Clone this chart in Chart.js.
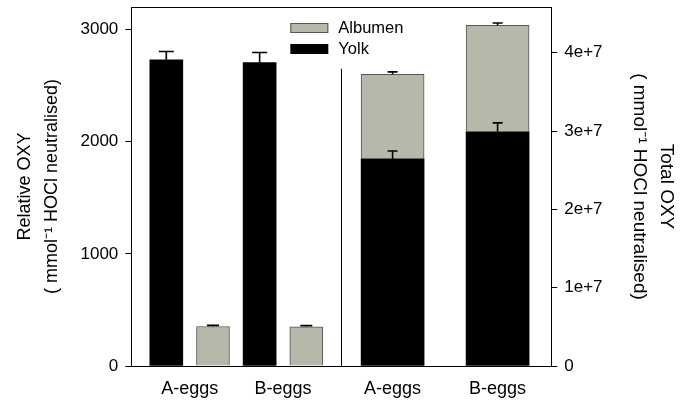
<!DOCTYPE html>
<html>
<head>
<meta charset="utf-8">
<script src="https://cdn.jsdelivr.net/npm/chart.js@4.4.0/dist/chart.umd.min.js"></script>
<style>
  html, body { margin: 0; padding: 0; background: #fff; }
  #wrap { width: 687px; height: 405px; }
</style>
</head>
<body>
<div id="wrap"><canvas id="oxyChart" width="687" height="405"></canvas></div>
<script>
const categories = ['A-eggs', 'B-eggs'];

// Relative OXY (left axis), side by side
const yolkRel = [2730, 2705];
const yolkRelErr = [74, 90];
const albumenRel = [352, 350];
const albumenRelErr = [10, 10];

// Total OXY (right axis), stacked
const yolkTotal = [2.645e7, 2.99e7];
const yolkTotalErr = [1.0e6, 1.15e6];
const albumenTotal = [1.08e7, 1.36e7];
const albumenTotalErr = [3e5, 3e5];

const leftTicks = [0, 1000, 2000, 3000];
const rightTicks = [0, 1e7, 2e7, 3e7, 4e7];

// where the groups sit on the x axis
const relPos = [1.25, 3.25];
const totPos = [5.6, 7.85];
const pairOffset = 0.5;
const dividerPos = 4.5;

const GREY = '#b7b7aa';
const xLabels = categories.concat(categories);

Chart.defaults.font.family = "'Liberation Sans', Arial, sans-serif";
Chart.defaults.color = '#000';

const errorBars = {
  id: 'errorBars',
  afterDatasetsDraw(chart) {
    const ctx = chart.ctx;
    ctx.save();
    ctx.strokeStyle = '#000';
    ctx.lineWidth = 1.6;
    chart.data.datasets.forEach((ds, di) => {
      const meta = chart.getDatasetMeta(di);
      const scale = chart.scales[ds.yAxisID];
      meta.data.forEach((bar, i) => {
        const len = scale.getPixelForValue(0) - scale.getPixelForValue(ds.err[i]);
        const top = bar.y - len;
        ctx.beginPath();
        ctx.moveTo(bar.x, bar.y);
        ctx.lineTo(bar.x, top);
        ctx.moveTo(bar.x - ds.cap / 2, top);
        ctx.lineTo(bar.x + ds.cap / 2, top);
        ctx.stroke();
      });
    });
    ctx.restore();
  }
};

const frame = {
  id: 'frame',
  afterDraw(chart) {
    const { ctx, chartArea: a, scales } = chart;
    ctx.save();
    ctx.strokeStyle = '#000';
    ctx.lineWidth = 1;
    ctx.beginPath();
    ctx.moveTo(a.left, Math.round(a.top) + 0.5);
    ctx.lineTo(a.right, Math.round(a.top) + 0.5);
    const dx = Math.round(scales.x.getPixelForValue(dividerPos)) + 0.5;
    ctx.moveTo(dx, scales.y.getPixelForValue(2650));
    ctx.lineTo(dx, a.bottom);
    ctx.stroke();

    // legend inside the plot
    const items = [chart.data.datasets[1], chart.data.datasets[0]];
    const lx = a.left + 159;
    ctx.font = "16.5px 'Liberation Sans', Arial, sans-serif";
    ctx.textBaseline = 'middle';
    items.forEach((ds, i) => {
      const ly = a.top + 16 + i * 21;
      ctx.fillStyle = ds.backgroundColor;
      ctx.fillRect(lx, ly, 38, 10);
      if (ds.borderWidth) {
        ctx.strokeStyle = ds.borderColor;
        ctx.strokeRect(lx + 0.5, ly + 0.5, 37, 9);
      }
      ctx.fillStyle = '#000';
      ctx.fillText(ds.label, lx + 48, ly + 5);
    });
    ctx.restore();
  }
};

// y axes: no extra top/bottom room for the tick labels
const noLabelPad = s => { s.paddingTop = 0; s.paddingBottom = 0; };

const ctxOxy = document.getElementById('oxyChart').getContext('2d');
new Chart(ctxOxy, {
  type: 'bar',
  data: {
    datasets: [
      {
        label: 'Yolk',
        data: yolkRel.map((v, i) => ({ x: relPos[i] - pairOffset, y: v })),
        err: yolkRelErr, cap: 15,
        yAxisID: 'y',
        backgroundColor: '#000',
        borderWidth: 0,
        barThickness: 33
      },
      {
        label: 'Albumen',
        data: albumenRel.map((v, i) => ({ x: relPos[i] + pairOffset, y: v })),
        err: albumenRelErr, cap: 12,
        yAxisID: 'y',
        backgroundColor: GREY,
        borderColor: '#555',
        borderWidth: 1,
        barThickness: 33
      },
      {
        label: 'Yolk total',
        data: yolkTotal.map((v, i) => ({ x: totPos[i], y: v })),
        err: yolkTotalErr, cap: 10,
        yAxisID: 'y2',
        backgroundColor: '#000',
        borderWidth: 0,
        barThickness: 63
      },
      {
        label: 'Albumen total',
        data: albumenTotal.map((v, i) => ({ x: totPos[i], y: v })),
        err: albumenTotalErr, cap: 10,
        yAxisID: 'y2',
        backgroundColor: GREY,
        borderColor: '#555',
        borderWidth: 1,
        barThickness: 63
      }
    ]
  },
  options: {
    responsive: false,
    animation: false,
    grouped: false,
    layout: { padding: { left: 11.5, right: 7.5, top: 7, bottom: 5 } },
    plugins: {
      legend: { display: false },
      tooltip: { enabled: false }
    },
    scales: {
      x: {
        type: 'linear',
        min: 0,
        max: 9,
        offset: false,
        afterBuildTicks: s => { s.ticks = relPos.concat(totPos).map(v => ({ value: v })); },
        afterFit: s => { s.height = 34; },
        ticks: {
          padding: 12,
          autoSkip: false,
          maxRotation: 0,
          font: { size: 18 },
          callback: (v, i) => xLabels[i]
        },
        grid: { display: false, drawTicks: false },
        border: { color: '#000', width: 1 }
      },
      y: {
        position: 'left',
        min: 0,
        max: 3200,
        afterBuildTicks: s => { s.ticks = leftTicks.map(v => ({ value: v })); },
        afterFit: noLabelPad,
        ticks: { padding: 7, font: { size: 17, lineHeight: 0.8 }, callback: v => String(v) },
        grid: { drawOnChartArea: false, tickLength: 6, color: '#000' },
        border: { color: '#000', width: 1 },
        title: {
          display: true,
          text: ['Relative OXY', '( mmol⁻¹ HOCl neutralised)'],
          font: { size: 18, lineHeight: 1.5 },
          padding: { top: 0, bottom: 8 }
        }
      },
      y2: {
        position: 'right',
        stacked: true,
        min: 0,
        max: 4.584e7,
        afterBuildTicks: s => { s.ticks = rightTicks.map(v => ({ value: v })); },
        afterFit: noLabelPad,
        ticks: {
          padding: 7,
          font: { size: 17, lineHeight: 0.8 },
          callback: v => v === 0 ? '0' : (v / 1e7) + 'e+7'
        },
        grid: { drawOnChartArea: false, tickLength: 6, color: '#000' },
        border: { color: '#000', width: 1 },
        title: {
          display: true,
          text: ['Total OXY', '( mmol⁻¹ HOCl neutralised)'],
          font: { size: 19, lineHeight: 1.42 },
          padding: { top: 0, bottom: 16 }
        }
      }
    }
  },
  plugins: [errorBars, frame]
});
</script>
</body>
</html>
